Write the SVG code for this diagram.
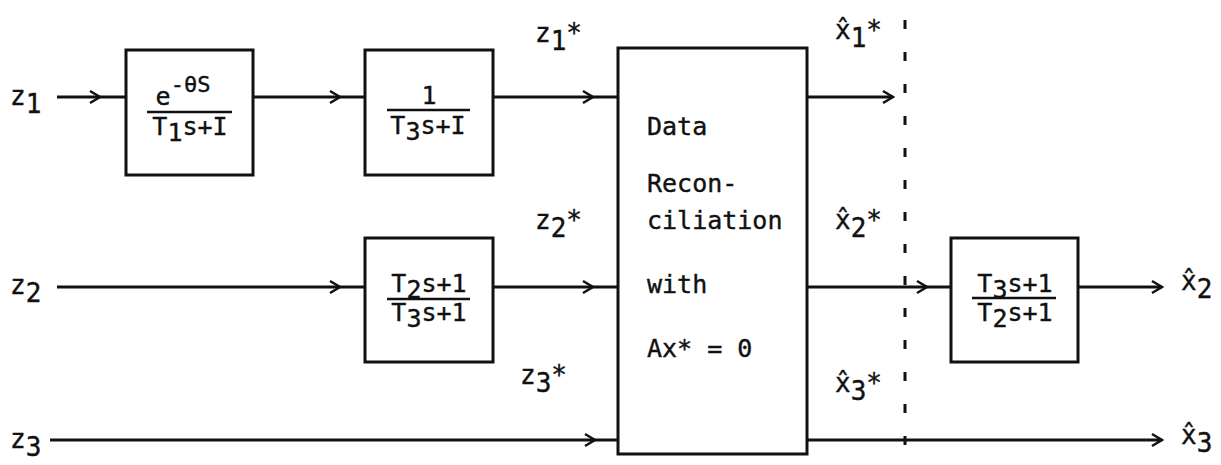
<svg xmlns="http://www.w3.org/2000/svg" width="1221" height="465" viewBox="0 0 1221 465">
<style>
  .box { fill: none; stroke: #111; stroke-width: 3; }
  .wire { fill: none; stroke: #111; stroke-width: 3; marker-mid: url(#chev); }
  .wire-end { fill: none; stroke: #111; stroke-width: 3; marker-end: url(#chev); }
  .bar { stroke: #111; stroke-width: 2.5; }
  .dash { stroke: #111; stroke-width: 3; stroke-dasharray: 9 23; }
  text { font-family: "DejaVu Sans Mono", "Liberation Mono", monospace; fill: #111; stroke: #111; stroke-width: 0.4; }
  .lbl { font-size: 26px; }
  .frac { font-size: 25px; text-anchor: middle; }
  .big { font-size: 25px; }
</style>
<defs>
  <marker id="chev" viewBox="-12 -8 14 16" markerWidth="14" markerHeight="16" refX="0" refY="0" orient="auto" markerUnits="userSpaceOnUse">
    <path d="M-10,-6 L0,0 L-10,6" fill="none" stroke="#111" stroke-width="2.5"/>
  </marker>
</defs>
<rect width="1221" height="465" fill="#fff"/>

<g id="connectors">
  <path class="wire" d="M57,97 L100,97 L126,97"/>
  <path class="wire" d="M253,97 L340,97 L365,97"/>
  <path class="wire" d="M493,97 L593,97 L618,97"/>
  <path class="wire-end" d="M807,97 L893,97"/>
  <path class="wire" d="M57,287 L340,287 L365,287"/>
  <path class="wire" d="M493,287 L593,287 L618,287"/>
  <path class="wire" d="M807,287 L927,287 L951,287"/>
  <path class="wire-end" d="M1078,287 L1162,287"/>
  <path class="wire" d="M50,440 L595,440 L618,440"/>
  <path class="wire-end" d="M807,440 L1162,440"/>
  <line class="dash" x1="905" y1="20" x2="905" y2="465"/>
</g>

<g id="labels">
  <text class="lbl" x="10" y="105">z<tspan dy="8">1</tspan></text>
  <text class="lbl" x="10" y="294">z<tspan dy="8">2</tspan></text>
  <text class="lbl" x="10" y="448">z<tspan dy="8">3</tspan></text>
  <text class="lbl" x="535" y="42">z<tspan dy="8">1</tspan><tspan dy="-8">*</tspan></text>
  <text class="lbl" x="535" y="229">z<tspan dy="8">2</tspan><tspan dy="-8">*</tspan></text>
  <text class="lbl" x="520" y="384">z<tspan dy="8">3</tspan><tspan dy="-8">*</tspan></text>
  <text class="lbl" x="835" y="39">x̂<tspan dy="8">1</tspan><tspan dy="-8">*</tspan></text>
  <text class="lbl" x="835" y="229">x̂<tspan dy="8">2</tspan><tspan dy="-8">*</tspan></text>
  <text class="lbl" x="835" y="392">x̂<tspan dy="8">3</tspan><tspan dy="-8">*</tspan></text>
  <text class="lbl" x="1181" y="290">x̂<tspan dy="8">2</tspan></text>
  <text class="lbl" x="1181" y="444">x̂<tspan dy="8">3</tspan></text>
</g>

<g id="block1">
  <rect class="box" x="126" y="50" width="127" height="125"/>
  <text class="frac" x="183" y="105">e<tspan dy="-13" font-size="22">-θS</tspan></text>
  <line class="bar" x1="147" y1="112" x2="232" y2="112"/>
  <text class="frac" x="190" y="135">T<tspan dy="6">1</tspan><tspan dy="-6">s+I</tspan></text>
</g>

<g id="block2">
  <rect class="box" x="365" y="50" width="128" height="125"/>
  <text class="frac" x="429" y="104">1</text>
  <line class="bar" x1="387" y1="110" x2="470" y2="110"/>
  <text class="frac" x="428" y="134">T<tspan dy="6">3</tspan><tspan dy="-6">s+I</tspan></text>
</g>

<g id="block3">
  <rect class="box" x="365" y="238" width="128" height="124"/>
  <text class="frac" x="429" y="292">T<tspan dy="6">2</tspan><tspan dy="-6">s+1</tspan></text>
  <line class="bar" x1="387" y1="299" x2="470" y2="299"/>
  <text class="frac" x="429" y="321">T<tspan dy="6">3</tspan><tspan dy="-6">s+1</tspan></text>
</g>

<g id="reconciliation">
  <rect class="box" x="618" y="48" width="189" height="406"/>
  <text class="big" x="647" y="135">Data</text>
  <text class="big" x="647" y="192">Recon-</text>
  <text class="big" x="647" y="229">ciliation</text>
  <text class="big" x="647" y="293">with</text>
  <text class="big" x="647" y="357">Ax* = 0</text>
</g>

<g id="block4">
  <rect class="box" x="951" y="238" width="127" height="124"/>
  <text class="frac" x="1015" y="292">T<tspan dy="6">3</tspan><tspan dy="-6">s+1</tspan></text>
  <line class="bar" x1="972" y1="298" x2="1056" y2="298"/>
  <text class="frac" x="1015" y="321">T<tspan dy="6">2</tspan><tspan dy="-6">s+1</tspan></text>
</g>
</svg>
